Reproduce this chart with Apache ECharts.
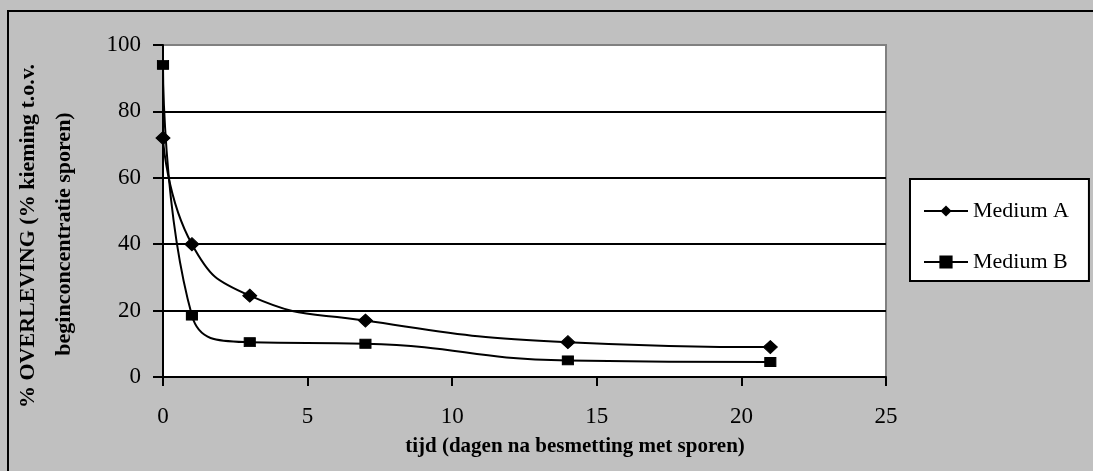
<!DOCTYPE html>
<html>
<head>
<meta charset="utf-8">
<script src="https://cdn.jsdelivr.net/npm/echarts@6/dist/echarts.min.js"></script>
<style>
  html, body { margin: 0; padding: 0; background: #c0c0c0; overflow: hidden; }
  #chart { width: 1093px; height: 471px; }
</style>
</head>
<body>
<div id="chart"></div>
<script>
// days after contamination with spores
var days = [0, 1, 3, 7, 14, 21];
var mediumA = [72, 40, 24.5, 17, 10.5, 9];
var mediumB = [94, 18.5, 10.5, 10, 5, 4.5];
var seriesNames = ["Medium A", "Medium B"];

var serif = "'Liberation Serif', 'Times New Roman', serif";

function pairs(values) {
  return days.map(function (d, i) {
    return [d, values[i]];
  });
}

var chart = echarts.init(document.getElementById("chart"));

chart.setOption({
  backgroundColor: "#c0c0c0",
  animation: false,
  grid: {
    left: 163,
    right: 207,
    top: 45,
    bottom: 94,
    show: true,
    backgroundColor: "#fff",
    borderColor: "#808080",
    borderWidth: 2
  },
  graphic: [
    {
      // frame: only the left and top edges show
      type: "polyline",
      shape: { points: [[8, 480], [8, 11], [1100, 11]] },
      style: { fill: null, stroke: "#000", lineWidth: 2 },
      silent: true
    },
    {
      type: "text",
      x: 28,
      y: 236,
      rotation: Math.PI / 2,
      style: {
        text: "% OVERLEVING (% kieming t.o.v.",
        font: "bold 22px " + serif,
        fill: "#000",
        align: "center",
        verticalAlign: "middle"
      }
    },
    {
      type: "text",
      x: 64,
      y: 234,
      rotation: Math.PI / 2,
      style: {
        text: "beginconcentratie sporen)",
        font: "bold 22px " + serif,
        fill: "#000",
        align: "center",
        verticalAlign: "middle"
      }
    },
    {
      type: "text",
      x: 575,
      y: 447,
      style: {
        text: "tijd (dagen na besmetting met sporen)",
        font: "bold 21px " + serif,
        fill: "#000",
        align: "center",
        verticalAlign: "middle"
      }
    }
  ],
  legend: {
    orient: "vertical",
    left: 910,
    top: 179,
    padding: [21, 20, 8, 13],
    itemGap: 29,
    itemWidth: 44,
    itemHeight: 14,
    backgroundColor: "#fff",
    borderColor: "#000",
    borderWidth: 2,
    borderRadius: 0,
    data: seriesNames,
    textStyle: {
      fontFamily: serif,
      fontSize: 22,
      color: "#000"
    }
  },
  xAxis: {
    type: "value",
    min: 0,
    max: 25,
    interval: 5,
    axisLine: { lineStyle: { color: "#000", width: 2 } },
    axisTick: { inside: false, length: 9, lineStyle: { color: "#000", width: 2 } },
    axisLabel: {
      margin: 28,
      fontFamily: serif,
      fontSize: 23,
      color: "#000"
    },
    splitLine: { show: false }
  },
  yAxis: {
    type: "value",
    min: 0,
    max: 100,
    interval: 20,
    axisLine: { show: true, lineStyle: { color: "#000", width: 2 } },
    axisTick: { show: true, inside: false, length: 10, lineStyle: { color: "#000", width: 2 } },
    axisLabel: {
      margin: 22,
      fontFamily: serif,
      fontSize: 23,
      color: "#000"
    },
    splitLine: {
      show: true,
      showMinLine: false,
      showMaxLine: false,
      lineStyle: { color: "#000", width: 2 }
    }
  },
  series: [
    {
      name: seriesNames[0],
      type: "line",
      data: pairs(mediumA),
      smooth: 0.5,
      symbol: "diamond",
      symbolSize: [14, 13],
      lineStyle: { color: "#000", width: 2 },
      itemStyle: { color: "#000", borderColor: "#000" }
    },
    {
      name: seriesNames[1],
      type: "line",
      data: pairs(mediumB),
      smooth: 0.5,
      symbol: "rect",
      symbolSize: [11, 9],
      lineStyle: { color: "#000", width: 2 },
      itemStyle: { color: "#000", borderColor: "#000", borderWidth: 1 }
    }
  ]
});
</script>
</body>
</html>
